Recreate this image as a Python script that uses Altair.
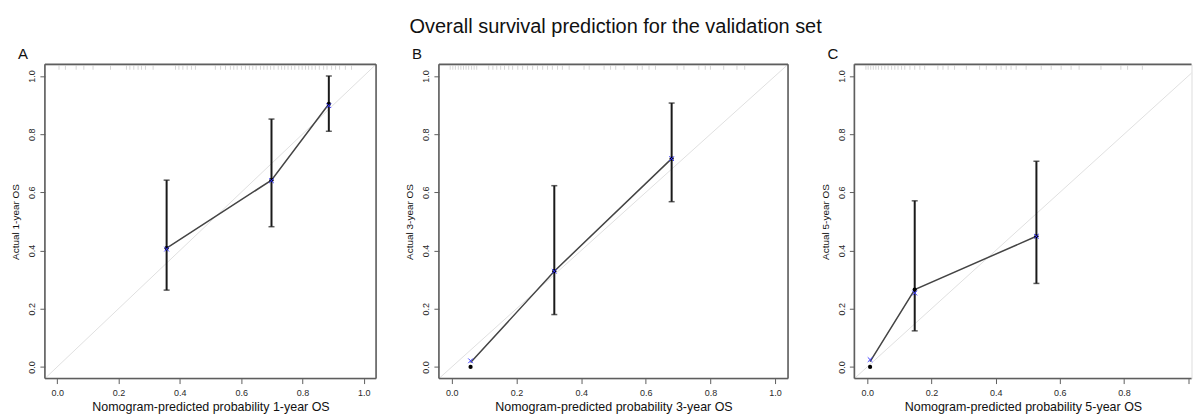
import altair as alt
import pandas as pd

# ---------------- data ----------------
TICKS = [0.0, 0.2, 0.4, 0.6, 0.8, 1.0]
DIAG = [-0.04, 1.04]

A_pred = [0.357, 0.699, 0.886]
A_obs = [0.408, 0.642, 0.904]
A_lo = [0.264, 0.482, 0.810]
A_hi = [0.642, 0.852, 1.000]
A_corr = [0.405, 0.640, 0.898]
A_line = [0.408, 0.642, 0.904]
A_rug = [0.006, 0.027, 0.062, 0.087, 0.117, 0.174, 0.226, 0.237, 0.250, 0.264, 0.275,
         0.288, 0.313, 0.386, 0.397, 0.410, 0.424, 0.438, 0.451, 0.516, 0.533, 0.549,
         0.565, 0.576, 0.587, 0.601, 0.614, 0.627, 0.638, 0.649, 0.663, 0.674, 0.685,
         0.696, 0.707, 0.721, 0.732, 0.742, 0.753, 0.764, 0.775, 0.788, 0.799, 0.810,
         0.820, 0.831, 0.842, 0.855, 0.869, 0.880, 0.895, 0.908, 0.921, 0.940, 0.960]

B_pred = [0.058, 0.317, 0.680]
B_obs = [0.000, 0.329, 0.716]
B_lo = [None, 0.180, 0.568]
B_hi = [None, 0.623, 0.907]
B_corr = [0.021, 0.329, 0.716]
B_line = [0.015, 0.329, 0.716]
B_rug = [-0.005, 0.003, 0.011, 0.020, 0.028, 0.036, 0.044, 0.052, 0.061, 0.069, 0.077,
         0.114, 0.127, 0.139, 0.151, 0.163, 0.176, 0.188, 0.204, 0.219, 0.234, 0.250,
         0.265, 0.281, 0.296, 0.311, 0.327, 0.342, 0.363, 0.409, 0.425, 0.471, 0.491,
         0.507, 0.533, 0.574, 0.589, 0.610, 0.630, 0.697, 0.718, 0.764, 0.784, 0.800,
         0.841, 0.882, 0.906]

C_pred = [0.009, 0.148, 0.527]
C_obs = [0.000, 0.266, 0.449]
C_lo = [None, 0.124, 0.287]
C_hi = [None, 0.571, 0.707]
C_corr = [0.025, 0.254, 0.449]
C_line = [0.018, 0.266, 0.449]
C_rug = [-0.004, 0.003, 0.011, 0.019, 0.027, 0.035, 0.045, 0.055, 0.065, 0.076, 0.086,
         0.096, 0.107, 0.117, 0.133, 0.148, 0.164, 0.179, 0.220, 0.236, 0.252, 0.272,
         0.309, 0.350, 0.371, 0.402, 0.417, 0.433, 0.448, 0.464, 0.495, 0.542, 0.573,
         0.604, 0.635, 0.660, 0.728, 0.790, 0.811, 0.857]

TITLE = "Overall survival prediction for the validation set"
FONT = "Liberation Sans"
BOX = "#5e5e5e"


def panel(letter, pred, obs, lo, hi, corr, line_y, rug, xtitle, ytitle, width,
          xmax, open_right=False):
    xdom = [DIAG[0], xmax]
    xscale = alt.Scale(domain=xdom, nice=False, zero=False)
    yscale = alt.Scale(domain=DIAG, nice=False, zero=False)
    xaxis = alt.Axis(values=TICKS, format=".1f", title=xtitle, grid=False, domain=False,
                     tickSize=5, tickColor=BOX, tickWidth=1, labelPadding=5,
                     labelFontSize=9, labelColor="#2a2a2a", labelFont=FONT,
                     titleFontSize=12.5, titleFont=FONT, titleFontWeight="normal",
                     titleColor="#111111", titlePadding=3, labelBound=open_right)
    yaxis = alt.Axis(values=TICKS, format=".1f", title=ytitle, grid=False, domain=False,
                     tickSize=5, tickColor=BOX, tickWidth=1, labelPadding=3,
                     labelAngle=270, labelAlign="center", labelBaseline="bottom",
                     labelFontSize=9, labelColor="#2a2a2a", labelFont=FONT,
                     titleFontSize=10, titleFont=FONT, titleFontWeight="normal",
                     titleColor="#111111", titlePadding=7)
    X = alt.X("x:Q", scale=xscale, axis=xaxis)
    Y = alt.Y("y:Q", scale=yscale, axis=yaxis)
    Ytop = alt.Y("y2:Q", scale=yscale, axis=yaxis)

    diag = pd.DataFrame({"x": DIAG, "y": DIAG})
    pts = pd.DataFrame({"x": pred, "y": obs})
    cor = pd.DataFrame({"x": pred, "y": corr})
    ln = pd.DataFrame({"x": pred, "y": line_y})
    eb = pd.DataFrame({"x": pred, "y": lo, "y2": hi}).dropna()
    eb_hi = pd.DataFrame({"x": eb["x"], "y": eb["y2"]})
    rg = pd.DataFrame({"x": rug})
    # frame of the plotting region (the domain limits)
    bl = pd.DataFrame({"x": [xdom[0]], "x2": [xdom[1]], "y": [DIAG[0]], "y2": [DIAG[1]]})

    layers = [
        alt.Chart(diag).mark_line(color="#e0e0e0", strokeWidth=1, clip=True).encode(x=X, y=Y),
        alt.Chart(rg).mark_tick(orient="vertical", color="#c4c4c4", size=4, thickness=1,
                                 clip=True).encode(x=X, y=alt.datum(1.028)),
        alt.Chart(ln).mark_line(color="#444444", strokeWidth=1.5).encode(x=X, y=Y),
        alt.Chart(eb).mark_rule(color="#1a1a1a", strokeWidth=2).encode(x=X, y=Y, y2="y2:Q"),
        alt.Chart(eb).mark_tick(orient="horizontal", color="#1a1a1a", size=6,
                                 thickness=1.5).encode(x=X, y=Y),
        alt.Chart(eb_hi).mark_tick(orient="horizontal", color="#1a1a1a", size=6,
                                    thickness=1.5).encode(x=X, y=Y),
        alt.Chart(pts).mark_point(filled=True, shape="circle", color="#000000", size=18,
                                  opacity=1).encode(x=X, y=Y),
        alt.Chart(cor).mark_point(shape="M-1,-1L1,1M-1,1L1,-1", filled=False,
                                  color="#3a3aff", size=22, strokeWidth=1,
                                  opacity=1).encode(x=X, y=Y),
        alt.Chart(bl).mark_rule(color=BOX, strokeWidth=1.6).encode(x=X, y=Y, y2="y2:Q"),
        alt.Chart(bl).mark_rule(color=BOX, strokeWidth=1.6).encode(x=X, x2="x2:Q", y=Y),
        alt.Chart(bl).mark_rule(color=BOX, strokeWidth=1.6).encode(x=X, x2="x2:Q", y=Ytop),
    ]
    if not open_right:
        layers.append(
            alt.Chart(bl).mark_rule(color=BOX, strokeWidth=1.6).encode(
                x=alt.X("x2:Q", scale=xscale, axis=xaxis), y=Y, y2="y2:Q"))
    ch = alt.layer(*layers).properties(
        width=width, height=315,
        title=alt.TitleParams(letter, anchor="start", fontSize=15, fontWeight="normal",
                              font=FONT, color="#111111", dx=7, offset=2),
    )
    return ch


pA = panel("A", A_pred, A_obs, A_lo, A_hi, A_corr, A_line, A_rug,
           "Nomogram-predicted probability 1-year OS", "Actual 1-year OS", 332, 1.04)
pB = panel("B", B_pred, B_obs, B_lo, B_hi, B_corr, B_line, B_rug,
           "Nomogram-predicted probability 3-year OS", "Actual 3-year OS", 350, 1.04)
pC = panel("C", C_pred, C_obs, C_lo, C_hi, C_corr, C_line, C_rug,
           "Nomogram-predicted probability 5-year OS", "Actual 5-year OS", 338, 1.01,
           open_right=True)

chart = alt.hconcat(alt.hconcat(pA, pB, spacing=26), pC, spacing=29.5).properties(
    title=alt.TitleParams(TITLE, anchor="middle", fontSize=20, fontWeight="normal",
                          font=FONT, color="#111111", dx=14, offset=9),
    padding={"left": 10, "top": 16, "right": 0, "bottom": 0},
).configure_view(stroke=None).configure(background="white")

chart.save("out.html", embed_options={"renderer": "svg", "actions": False})
